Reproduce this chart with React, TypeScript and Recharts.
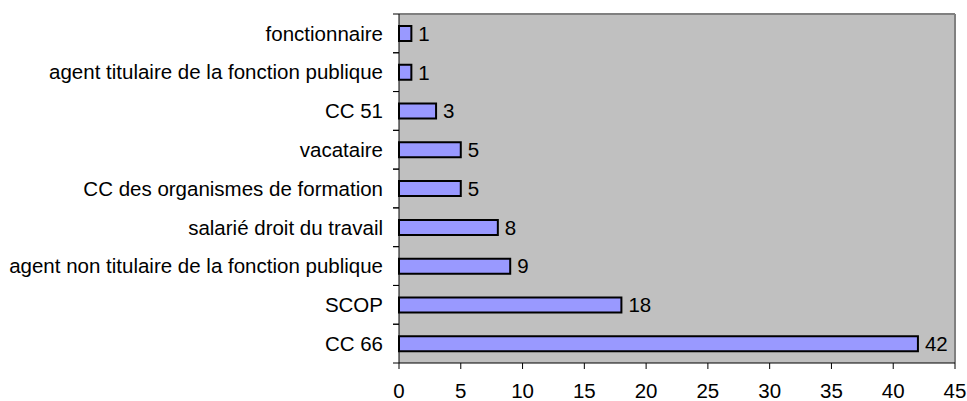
import React from "react";
import {
  BarChart,
  Bar,
  XAxis,
  YAxis,
  CartesianGrid,
  LabelList,
} from "recharts";

const categories = [
  "fonctionnaire",
  "agent titulaire de la fonction publique",
  "CC 51",
  "vacataire",
  "CC des organismes de formation",
  "salarié droit du travail",
  "agent non titulaire de la fonction publique",
  "SCOP",
  "CC 66",
];
const counts = [1, 1, 3, 5, 5, 8, 9, 18, 42];
const xTicks = [0, 5, 10, 15, 20, 25, 30, 35, 40, 45];

const data = categories.map((name, i) => ({ name, value: counts[i] }));

const WIDTH = 967;
const HEIGHT = 401;
const MARGIN = { top: 14, right: 12, left: 0, bottom: 0 };
const Y_AXIS_WIDTH = 399;
const X_AXIS_HEIGHT = 38;
const FONT = "'Liberation Sans', Arial, sans-serif";
const FONT_SIZE = 20.5;

const plotHeight = HEIGHT - MARGIN.top - MARGIN.bottom - X_AXIS_HEIGHT;
const band = plotHeight / categories.length;

// category ticks: label at centre, tick marks on the band boundaries (Excel style)
const CategoryTick = (props: any) => {
  const { y, payload } = props;
  const axisX = Y_AXIS_WIDTH;
  return (
    <g>
      <line x1={axisX - 6} x2={axisX} y1={y - band / 2} y2={y - band / 2} stroke="#000" />
      <line x1={axisX - 6} x2={axisX} y1={y + band / 2} y2={y + band / 2} stroke="#000" />
      <text
        x={axisX - 16}
        y={y}
        dy="0.355em"
        textAnchor="end"
        fill="#000"
        fontSize={FONT_SIZE}
        fontFamily={FONT}
      >
        {payload.value}
      </text>
    </g>
  );
};

export default function App() {
  return (
    <div style={{ position: "absolute", left: 0, top: 0, background: "#fff" }}>
      <BarChart
        width={WIDTH}
        height={HEIGHT}
        data={data}
        layout="vertical"
        margin={MARGIN}
        barCategoryGap={0}
      >
        <CartesianGrid
          fill="#C0C0C0"
          stroke="#808080"
          strokeWidth={2}
          horizontalCoordinatesGenerator={({ offset }: any) => [offset.top]}
          verticalCoordinatesGenerator={({ offset }: any) => [offset.left + offset.width]}
        />
        <XAxis
          type="number"
          domain={[0, 45]}
          ticks={xTicks}
          interval={0}
          height={X_AXIS_HEIGHT}
          axisLine={{ stroke: "#000" }}
          tickLine={{ stroke: "#000" }}
          tickSize={6}
          tickMargin={14}
          tick={{ fill: "#000", fontSize: FONT_SIZE, fontFamily: FONT }}
        />
        <YAxis
          type="category"
          dataKey="name"
          width={Y_AXIS_WIDTH}
          axisLine={{ stroke: "#000" }}
          tickLine={false}
          interval={0}
          tick={<CategoryTick />}
        />
        <Bar
          dataKey="value"
          fill="#9999FF"
          stroke="#000"
          strokeWidth={2}
          barSize={15}
          isAnimationActive={false}
        >
          <LabelList
            dataKey="value"
            position="right"
            offset={7}
            fill="#000"
            fontSize={FONT_SIZE}
            fontFamily={FONT}
          />
        </Bar>
      </BarChart>
    </div>
  );
}
